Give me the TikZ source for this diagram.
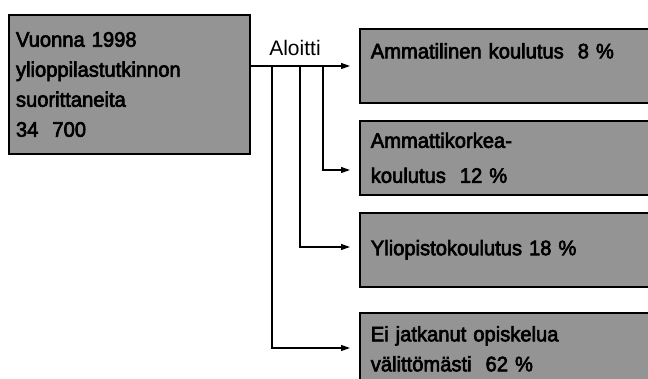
\documentclass[tikz,border=0pt]{standalone}
\usepackage{fontspec}
\setmainfont{Liberation Sans}
\newfontfamily\heavy[FakeBold=3,FakeStretch=0.96]{Liberation Sans}
\usetikzlibrary{arrows.meta}
\tikzset{
  shaded/.style={draw=black, line width=1.6pt, fill=black!42, anchor=north west,
    inner ysep=0pt, inner xsep=11pt, align=left, text width=278pt,
    minimum width=300pt, minimum height=74pt,
    font=\heavy\fontsize{21}{30}\selectfont},
  arr/.style={line width=1.2pt, -{Triangle[length=9pt,width=6pt]}, shorten >=9pt},
}
\begin{document}
\begin{tikzpicture}[x=1pt,y=-1pt]
    \useasboundingbox (0,0) rectangle (648,379);
    % start box
    \node[shaded, line width=2pt, inner xsep=7pt, text width=227pt,
      minimum width=241pt, minimum height=139pt] (start) at (8,14)
      {Vuonna 1998\\ylioppilastutkinnon\\suorittaneita\\34 \ 700};
    \node[font=\fontsize{21}{30}\selectfont] (aloitti) at (295,48) {Aloitti};

    % result boxes
    \node[shaded, text depth=30pt] (amm) at (359,28)
      {Ammatilinen koulutus \ 8 \%};
    \node[shaded] (amk) at (359,120)
      {Ammattikorkea-\\[5pt]koulutus \ 12 \%};
    \node[shaded] (yo) at (359,212)
      {Yliopistokoulutus 18 \%};
    \node[shaded, minimum height=72pt] (ei) at (359,312)
      {Ei jatkanut opiskelua\\välittömästi \ 62 \%};

    % connectors
    \coordinate (split) at (249,66);
    \coordinate (j1) at (272,66);
    \coordinate (j2) at (300,66);
    \coordinate (j3) at (323,66);
    \draw[arr] (split) -- (amm.west |- split);
    \draw[arr] (j3) |- (amk.west |- 0,170);
    \draw[arr] (j2) |- (yo.west |- 0,247);
    \draw[arr] (j1) |- (ei.west |- 0,348);
\end{tikzpicture}
\end{document}
